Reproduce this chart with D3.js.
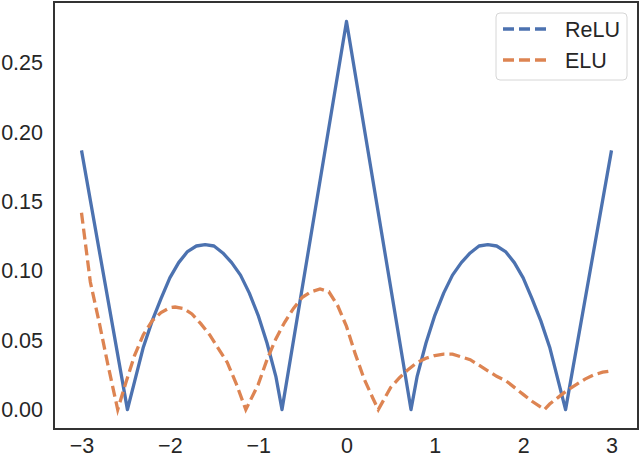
<!DOCTYPE html>
<html>
<head>
<meta charset="utf-8">
<script src="https://cdn.jsdelivr.net/npm/d3@7"></script>
<style>
	body { margin: 0; background: #fff; }
	text { font-family: "Liberation Sans", Arial, sans-serif; fill: #262626; }
</style>
</head>
<body>
<script>
//series
var reluX = [-3.0, -2.48, -2.4, -2.3, -2.2, -2.1, -2.0, -1.9, -1.8, -1.7, -1.6, -1.5, -1.4, -1.3, -1.2, -1.1, -1.0, -0.9, -0.8, -0.73,
	0, 0.73, 0.8, 0.9, 1.0, 1.1, 1.2, 1.3, 1.4, 1.5, 1.6, 1.7, 1.8, 1.9, 2.0, 2.1, 2.2, 2.3, 2.4, 2.48, 3.0];
var reluY = [0.187, 0, 0.020, 0.045, 0.064, 0.080, 0.095, 0.106, 0.114, 0.118, 0.119, 0.118, 0.113, 0.106, 0.097, 0.084, 0.068, 0.048, 0.024, 0,
	0.280, 0, 0.024, 0.048, 0.068, 0.084, 0.097, 0.106, 0.113, 0.118, 0.119, 0.118, 0.114, 0.106, 0.095, 0.080, 0.064, 0.045, 0.020, 0, 0.187];

var eluX = [-3.0, -2.9, -2.8, -2.7, -2.59, -2.5, -2.4, -2.3, -2.2, -2.1, -2.0, -1.94, -1.85, -1.75, -1.65, -1.55, -1.45, -1.35, -1.25, -1.14,
	-1.0, -0.9, -0.8, -0.7, -0.6, -0.5, -0.4, -0.3, -0.2, -0.1, 0, 0.1, 0.2, 0.3, 0.36,
	0.5, 0.6, 0.7, 0.8, 0.9, 1.0, 1.1, 1.2, 1.3, 1.4, 1.5, 1.6, 1.7, 1.8, 1.9, 2.0, 2.1, 2.24,
	2.3, 2.4, 2.5, 2.6, 2.7, 2.8, 2.9, 3.0];
var eluY = [0.142, 0.092, 0.063, 0.032, 0, 0.019, 0.039, 0.054, 0.064, 0.070, 0.0735, 0.074, 0.073, 0.069, 0.062, 0.054, 0.044, 0.034, 0.019, 0,
	0.018, 0.036, 0.051, 0.063, 0.073, 0.081, 0.085, 0.087, 0.085, 0.075, 0.060, 0.040, 0.022, 0.008, 0,
	0.016, 0.023, 0.029, 0.034, 0.037, 0.039, 0.040, 0.040, 0.038, 0.036, 0.032, 0.028, 0.024, 0.021, 0.016, 0.011, 0.006, 0,
	0.004, 0.009, 0.014, 0.018, 0.022, 0.025, 0.027, 0.028];

var xTicks = [-3, -2, -1, 0, 1, 2, 3];
var yTicks = [0.00, 0.05, 0.10, 0.15, 0.20, 0.25];
var seriesNames = ["ReLU", "ELU"];
var seriesColors = ["#4c72b0", "#dd8452"];

drawChart();

function drawChart(){
	var w = 640, h = 458;
	var mLeft = 55, mRight = 638, mTop = 2, mBottom = 429;

	var svg = d3.select("body").append("svg")
		.attr("width", w)
		.attr("height", h);

	var x = d3.scaleLinear().domain([-3.3, 3.3]).range([mLeft, mRight]);
	var y = d3.scaleLinear().domain([-0.014, 0.294]).range([mBottom, mTop]);

	//axes without domain lines or tick marks (seaborn white look)
	svg.append("g")
		.attr("transform", "translate(0," + mBottom + ")")
		.call(d3.axisBottom(x).tickValues(xTicks).tickSize(0).tickPadding(9).tickFormat(d3.format("d")));
	svg.append("g")
		.attr("transform", "translate(" + mLeft + ",0)")
		.call(d3.axisLeft(y).tickValues(yTicks).tickSize(0).tickPadding(12).tickFormat(d3.format(".2f")));
	svg.selectAll(".domain").remove();
	svg.selectAll(".tick text")
		.style("font-size", "21.5px")
		.style("font-family", "'Liberation Sans', Arial, sans-serif")
		.attr("fill", "#262626");

	var line = d3.line()
		.x(function(d){ return x(d[0]); })
		.y(function(d){ return y(d[1]); });

	svg.append("path")
		.datum(d3.zip(reluX, reluY))
		.attr("d", line)
		.attr("fill", "none")
		.attr("stroke", seriesColors[0])
		.attr("stroke-width", 3.3)
		.attr("stroke-linejoin", "round");

	svg.append("path")
		.datum(d3.zip(eluX, eluY))
		.attr("d", line)
		.attr("fill", "none")
		.attr("stroke", seriesColors[1])
		.attr("stroke-width", 3.3)
		.attr("stroke-dasharray", "11,5");

	//frame
	svg.append("rect")
		.attr("x", mLeft - 1)
		.attr("y", mTop)
		.attr("width", mRight - mLeft + 1)
		.attr("height", mBottom - mTop)
		.attr("fill", "none")
		.attr("stroke", "#333")
		.attr("stroke-width", 2);

	//legend
	var legend = svg.append("g").attr("class", "legend");
	legend.append("rect")
		.attr("x", 496)
		.attr("y", 13)
		.attr("width", 131)
		.attr("height", 67)
		.attr("rx", 4)
		.attr("fill", "#fff")
		.attr("fill-opacity", 0.8)
		.attr("stroke", "#d6d6d6")
		.attr("stroke-width", 1);

	var items = legend.selectAll(".item")
		.data(seriesNames)
		.enter()
		.append("g")
		.attr("class", "item")
		.attr("transform", function(d, i){ return "translate(0," + (29 + i * 31) + ")"; });
	items.append("line")
		.attr("x1", 503)
		.attr("x2", 547)
		.attr("stroke", function(d, i){ return seriesColors[i]; })
		.attr("stroke-width", 3.3)
		.attr("stroke-dasharray", "11,5");
	items.append("text")
		.attr("x", 565)
		.attr("dy", "0.35em")
		.style("font-size", "21.5px")
		.text(function(d){ return d; });
}
</script>
</body>
</html>
